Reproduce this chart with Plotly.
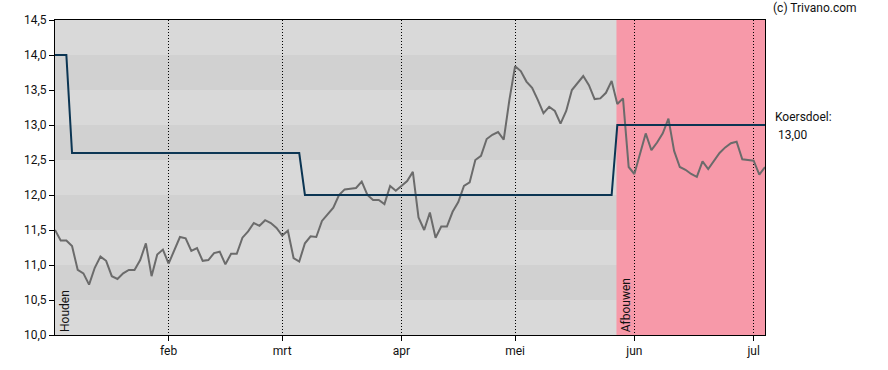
import plotly.graph_objects as go

# ---- data (trading-day index based) ----
price = [11.50, 11.35, 11.35, 11.27, 10.93, 10.88, 10.72, 10.96, 11.12, 11.06,
         10.84, 10.80, 10.88, 10.93, 10.93, 11.07, 11.31, 10.84, 11.15, 11.22,
         11.02, 11.21, 11.40, 11.38, 11.20, 11.24, 11.06, 11.07, 11.17, 11.19,
         11.01, 11.16, 11.16, 11.39, 11.48, 11.60, 11.56, 11.64, 11.60, 11.53,
         11.42, 11.49, 11.10, 11.05, 11.31, 11.41, 11.40, 11.63, 11.72, 11.82,
         12.00, 12.08, 12.09, 12.10, 12.19, 12.00, 11.93, 11.93, 11.87, 12.13,
         12.06, 12.13, 12.20, 12.33, 11.68, 11.50, 11.75, 11.39, 11.55, 11.55,
         11.76, 11.90, 12.13, 12.18, 12.50, 12.56, 12.80, 12.86, 12.90, 12.79,
         13.36, 13.84, 13.77, 13.62, 13.53, 13.36, 13.17, 13.26, 13.20, 13.02,
         13.20, 13.50, 13.60, 13.70, 13.57, 13.37, 13.38, 13.46, 13.63, 13.30,
         13.38, 12.40, 12.30, 12.60, 12.88, 12.64, 12.75, 12.88, 13.09, 12.63,
         12.40, 12.36, 12.30, 12.26, 12.48, 12.37, 12.48, 12.60, 12.68, 12.74,
         12.76, 12.51, 12.50, 12.49, 12.29, 12.40]
days = list(range(len(price)))

# koersdoel (price target) steps: (first index, value)
target_steps = [(0, 14.0), (3, 12.6), (44, 12.0), (99, 13.0)]
target = []
for i in days:
    v = None
    for s, val in target_steps:
        if i >= s:
            v = val
    target.append(v)

# advice zones: (start index, end index, label)
zones = [(0, 99, "Houden"), (99, 125, "Afbouwen")]

month_pos = [20, 40, 61, 81, 102, 123]
month_labels = ["feb", "mrt", "apr", "mei", "jun", "jul"]

y_ticks = [10.0, 10.5, 11.0, 11.5, 12.0, 12.5, 13.0, 13.5, 14.0, 14.5]
y_labels = [f"{v:.1f}".replace(".", ",") for v in y_ticks]

target_label = "Koersdoel:"
target_value = 13.00

# ---- figure ----
fig = go.Figure()

shapes = []
# pink zone (Afbouwen)
shapes.append(dict(type="rect", xref="x", yref="y", x0=zones[1][0] - 0.15, x1=zones[1][1],
                   y0=10.0, y1=14.5, fillcolor="#f799a9", line_width=0, layer="below"))
# darker bands
for k in range(len(y_ticks) - 1):
    lo = y_ticks[k]
    if k % 2 == 1:
        shapes.append(dict(type="rect", xref="paper", yref="y", x0=0, x1=1,
                           y0=lo, y1=lo + 0.5, fillcolor="rgba(0,0,0,0.037)",
                           line_width=0, layer="below"))

fig.add_trace(go.Scatter(x=days, y=price, mode="lines",
                         line=dict(color="#6b6b6b", width=2), hoverinfo="skip"))
fig.add_trace(go.Scatter(x=days, y=target, mode="lines",
                         line=dict(color="#0b3553", width=2), hoverinfo="skip"))

annotations = []
for s, e, lab in zones:
    annotations.append(dict(x=s, y=10.0, xref="x", yref="y", text=lab, textangle=-90,
                            showarrow=False, xanchor="left", yanchor="bottom",
                            xshift=1 if s == 0 else 0, yshift=1,
                            font=dict(family="Roboto", size=12, color="#111")))
annotations.append(dict(x=1.0, y=target_value, xref="paper", yref="y", text=target_label,
                        showarrow=False, xanchor="left", yanchor="middle", xshift=8, yshift=8,
                        font=dict(family="Roboto", size=12, color="#111")))
annotations.append(dict(x=1.0, y=target_value, xref="paper", yref="y",
                        text=f"{target_value:.2f}".replace(".", ","),
                        showarrow=False, xanchor="left", yanchor="middle", xshift=11, yshift=-10,
                        font=dict(family="Roboto", size=12, color="#111")))
annotations.append(dict(x=1.0, y=1.0, xref="paper", yref="paper", text="(c) Trivano.com",
                        showarrow=False, xanchor="left", yanchor="bottom", xshift=6, yshift=3,
                        font=dict(family="Roboto", size=12, color="#111")))

fig.update_layout(
    width=888, height=370,
    margin=dict(l=55, r=123, t=20, b=35, autoexpand=False),
    paper_bgcolor="white", plot_bgcolor="#d9d9d9",
    showlegend=False,
    shapes=shapes, annotations=annotations,
    font=dict(family="Roboto", size=12, color="#111"),
)
fig.update_xaxes(range=[0, 125], tickvals=month_pos, ticktext=month_labels,
                 showgrid=True, gridcolor="black", griddash="1px,2px", gridwidth=1,
                 ticks="outside", ticklen=5, tickcolor="black",
                 showline=True, linecolor="black", linewidth=1, mirror=True,
                 zeroline=False, automargin=False, tickfont=dict(size=12, color="#111"))
fig.update_yaxes(range=[10.0, 14.5], tickvals=y_ticks, ticktext=y_labels,
                 showgrid=False, ticks="outside", ticklen=5, tickcolor="black",
                 showline=True, linecolor="black", linewidth=1, mirror=True,
                 zeroline=False, automargin=False, tickfont=dict(size=12, color="#111"))

fig.write_html("out.html", config={"displayModeBar": False},
               post_script="document.body.style.margin='0';")
